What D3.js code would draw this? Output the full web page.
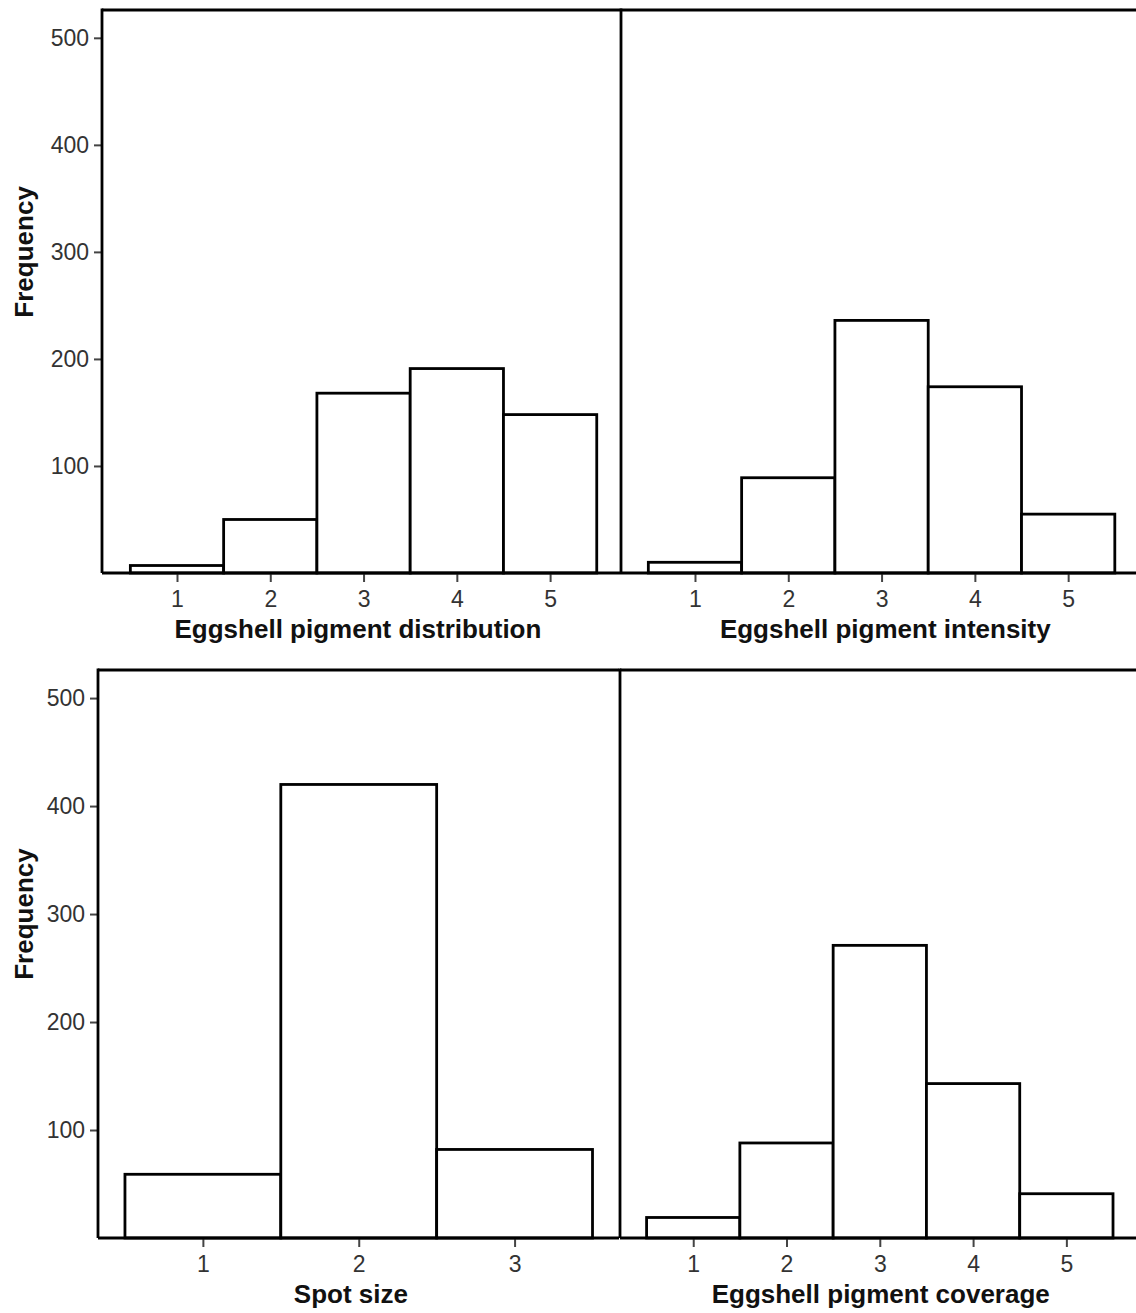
<!DOCTYPE html>
<html>
<head>
<meta charset="utf-8">
<script src="https://cdn.jsdelivr.net/npm/d3@7"></script>
<style>
  html, body { margin: 0; padding: 0; background: #fff; }
  svg { display: block; }
</style>
</head>
<body>
<svg id="chart" width="1136" height="1313"></svg>
<script>
// ---- Data ----
const distributionCategories = [1, 2, 3, 4, 5];
const distributionValues = [7, 50, 168, 191, 148];

const intensityCategories = [1, 2, 3, 4, 5];
const intensityValues = [10, 89, 236, 174, 55];

const spotSizeCategories = [1, 2, 3];
const spotSizeValues = [59, 420, 82];

const coverageCategories = [1, 2, 3, 4, 5];
const coverageValues = [19, 88, 271, 143, 41];

const yTickValues = [100, 200, 300, 400, 500];

const panelTitles = [
  "Eggshell pigment distribution",
  "Eggshell pigment intensity",
  "Spot size",
  "Eggshell pigment coverage"
];
const yAxisTitle = "Frequency";

// ---- Layout ----
const svg = d3.select("#chart");
const STROKE = 2.8;
const FONT = "Arial, 'Liberation Sans', sans-serif";

const panels = [
  { cats: distributionCategories, vals: distributionValues, title: panelTitles[0],
    x0: 102, x1: 621, xd: [0.196, 5.76], top: 10, bottom: 573, showY: true, titleAt: 2.94 },
  { cats: intensityCategories, vals: intensityValues, title: panelTitles[1],
    x0: 621, x1: 1140, xd: [0.207, 5.77], top: 10, bottom: 573, showY: false, titleAt: 3.04 },
  { cats: spotSizeCategories, vals: spotSizeValues, title: panelTitles[2],
    x0: 98, x1: 619, xd: [0.327, 3.67], top: 670, bottom: 1238, showY: true, titleAt: 1.95 },
  { cats: coverageCategories, vals: coverageValues, title: panelTitles[3],
    x0: 620, x1: 1141, xd: [0.215, 5.8], top: 670, bottom: 1238, showY: false, titleAt: 3.01 }
];

panels.forEach(p => {
  const g = svg.append("g");
  const x = d3.scaleLinear().domain(p.xd).range([p.x0, p.x1]);
  const y = d3.scaleLinear().domain([0, 526]).range([p.bottom, p.top]);

  // bars
  g.selectAll("rect.bar")
    .data(p.cats.map((c, i) => ({ c, v: p.vals[i] })))
    .join("rect")
    .attr("class", "bar")
    .attr("x", d => x(d.c - 0.5))
    .attr("width", d => x(d.c + 0.5) - x(d.c - 0.5))
    .attr("y", d => y(d.v))
    .attr("height", d => y(0) - y(d.v))
    .attr("fill", "#fff")
    .attr("stroke", "#000")
    .attr("stroke-width", STROKE);

  // x axis
  const xAxis = d3.axisBottom(x).tickValues(p.cats).tickSize(9).tickPadding(9)
    .tickFormat(d3.format("d"));
  const xg = g.append("g").attr("transform", `translate(0,${p.bottom})`).call(xAxis);
  xg.select(".domain").remove();
  xg.selectAll(".tick line").attr("stroke", "#444").attr("stroke-width", 2);
  xg.selectAll(".tick text")
    .attr("fill", "#333")
    .style("font-family", FONT)
    .style("font-size", "23px");

  // y axis
  if (p.showY) {
    const yAxis = d3.axisLeft(y).tickValues(yTickValues).tickSize(8).tickPadding(5);
    const yg = g.append("g").attr("transform", `translate(${p.x0},0)`).call(yAxis);
    yg.select(".domain").remove();
    yg.selectAll(".tick line").attr("stroke", "#444").attr("stroke-width", 2);
    yg.selectAll(".tick text")
      .attr("fill", "#333")
      .style("font-family", FONT)
      .style("font-size", "23px");

    g.append("text")
      .attr("transform", `translate(33,${y(300)}) rotate(-90)`)
      .attr("text-anchor", "middle")
      .attr("fill", "#111")
      .style("font-family", FONT)
      .style("font-weight", "bold")
      .style("font-size", "26px")
      .text(yAxisTitle);
  }

  // frame lines
  g.append("line").attr("x1", p.x0).attr("x2", p.x1).attr("y1", p.top).attr("y2", p.top)
    .attr("stroke", "#000").attr("stroke-width", STROKE);
  g.append("line").attr("x1", p.x0).attr("x2", p.x0).attr("y1", p.top - STROKE / 2).attr("y2", p.bottom)
    .attr("stroke", "#000").attr("stroke-width", STROKE);
  g.append("line").attr("x1", p.x0).attr("x2", p.x1).attr("y1", p.bottom).attr("y2", p.bottom)
    .attr("stroke", "#000").attr("stroke-width", STROKE);

  // x title
  g.append("text")
    .attr("x", x(p.titleAt))
    .attr("y", p.bottom + 65)
    .attr("text-anchor", "middle")
    .attr("fill", "#111")
    .style("font-family", FONT)
    .style("font-weight", "bold")
    .style("font-size", "26px")
    .text(p.title);
});
</script>
</body>
</html>
